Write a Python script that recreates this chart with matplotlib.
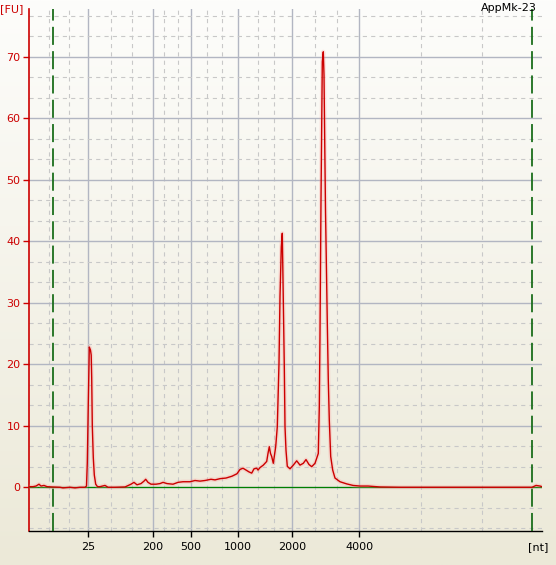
import numpy as np
import matplotlib
matplotlib.use("Agg")
import matplotlib.pyplot as plt

plt.rcParams["lines.scale_dashes"] = False
plt.rcParams["font.family"] = "DejaVu Sans"

# Electropherogram trace: migration time [s] vs fluorescence [FU]
time_s = [19.0, 19.4, 19.7, 20.0, 20.2, 20.5, 20.8, 21.3, 22.1, 22.4, 23.1, 23.6, 24.1, 24.6,
          24.75, 24.83, 24.93, 25.03, 25.15, 25.22, 25.27, 25.33, 25.43, 25.53, 25.67, 25.85,
          26.1, 26.6, 26.9, 27.6, 28.6, 29.2, 29.5, 29.8, 30.2, 30.5, 30.67, 30.9, 31.2, 31.7,
          32.1, 32.4, 32.8, 33.4, 33.9, 34.4, 35.1, 35.6, 36.1, 36.6, 37.2, 37.6, 38.1, 38.7,
          39.3, 39.8, 40.1, 40.4, 40.7, 41.0, 41.27, 41.5, 41.77, 41.9, 42.1, 42.43, 42.77,
          42.9, 43.03, 43.15, 43.27, 43.43, 43.67, 43.83, 44.0, 44.1, 44.23, 44.33, 44.43,
          44.53, 44.6, 44.7, 44.83, 45.1, 45.43, 45.77, 46.1, 46.43, 46.7, 47.0, 47.27, 47.6,
          47.93, 48.03, 48.1, 48.2, 48.33, 48.43, 48.5, 48.58, 48.65, 48.72, 48.83, 48.93,
          49.03, 49.17, 49.37, 49.6, 50.1, 50.77, 51.4, 52.1, 52.9, 54.1, 56.1, 61.1, 66.1,
          69.3, 69.7, 70.1, 70.3]
fu = [0.1, 0.1, 0.2, 0.5, 0.2, 0.3, 0.1, 0.05, 0.0, -0.1, 0.0, -0.1, 0.0, 0.0,
      0.2, 4.0, 13.7, 22.8, 22.3, 21.5, 17.8, 10.0, 4.8, 2.0, 0.5, 0.1,
      0.1, 0.3, 0.0, 0.0, 0.05, 0.5, 0.8, 0.4, 0.6, 1.0, 1.3, 0.8, 0.5, 0.5,
      0.6, 0.8, 0.6, 0.5, 0.8, 0.9, 0.9, 1.1, 1.0, 1.1, 1.3, 1.2, 1.4, 1.5,
      1.8, 2.2, 2.9, 3.1, 2.8, 2.5, 2.3, 3.0, 3.1, 2.8, 3.2, 3.6, 4.2,
      5.5, 6.6, 5.5, 5.0, 3.9, 6.6, 9.85, 20.2, 31.0, 39.1, 41.3, 30.4,
      19.6, 9.85, 6.0, 3.4, 3.0, 3.6, 4.3, 3.6, 3.9, 4.5, 3.7, 3.35, 3.9,
      5.5, 13.1, 25.0, 46.7, 69.2, 70.8, 67.0, 55.0, 45.0, 38.0, 26.7, 17.4,
      10.9, 5.0, 2.8, 1.5, 0.9, 0.55, 0.3, 0.2, 0.2, 0.05, 0.0, 0.0, 0.0,
      0.0, 0.3, 0.2, 0.1]

# ladder sizes shown on the x axis and their migration times
ladder_nt = ["25", "200", "500", "1000", "2000", "4000"]
ladder_time = [24.93, 31.37, 35.17, 39.93, 45.33, 52.03]
minor_time = [21.03, 23.03, 27.17, 29.27, 32.53, 33.87, 36.77, 38.33, 41.93, 43.53,
              47.6, 49.77, 58.17, 64.27]
marker_time = [21.43, 69.33]   # lower / upper markers
sample_name = "AppMk-23"

fig = plt.figure(figsize=(5.56, 5.65), dpi=100)

# background gradient
bg = fig.add_axes([0, 0, 1, 1], zorder=-10)
top = np.array([253, 253, 251]) / 255.0
bot = np.array([236, 233, 216]) / 255.0
g = np.linspace(0, 1, 256)[:, None]
grad = top[None, None, :] * (1 - g[:, :, None]) + bot[None, None, :] * g[:, :, None]
bg.imshow(np.repeat(grad, 2, axis=1), aspect="auto", extent=[0, 1, 0, 1])
bg.axis("off")

ax = fig.add_axes([0.05216, 0.06071, 0.92266, 0.92336])
ax.patch.set_alpha(0)
ax.set_xlim(19.0, 70.3)
ax.set_ylim(-7.06, 77.76)

# grid
for t in ladder_time:
    ax.axvline(t, color="#b2b6c2", lw=1.0, zorder=1)
for t in minor_time:
    ax.axvline(t, color="#c8c8c8", lw=0.8, ls=(0, (3, 3)), zorder=1)
for v in range(0, 80, 10):
    ax.axhline(v, color="#b2b6c2", lw=1.0, zorder=1)
for k in range(-2, 24):
    if k % 3 != 0:
        ax.axhline(k * 10 / 3, color="#c8c8c8", lw=0.8, ls=(0, (3, 3)), zorder=1)

ax.axhline(0, color="#008000", lw=0.9, zorder=3)
for t in marker_time:
    ax.axvline(t, color="#1b6e1b", lw=1.3, ls=(0, (13, 4.5)), zorder=4)

# trace with soft glow
ax.plot(time_s, fu, color="#ff9090", lw=3.0, alpha=0.25, zorder=5, solid_joinstyle="round")
ax.plot(time_s, fu, color="#cc0000", lw=1.0, zorder=6)

ax.spines["top"].set_visible(False)
ax.spines["right"].set_visible(False)
ax.spines["left"].set_color("#cc0000")
ax.spines["left"].set_linewidth(1.2)
ax.spines["bottom"].set_color("black")
ax.spines["bottom"].set_linewidth(1.0)

ax.set_yticks(range(0, 80, 10))
ax.tick_params(axis="y", colors="#cc0000", labelcolor="#cc0000", labelsize=8, length=4, width=1, pad=2)
ax.set_xticks(ladder_time)
ax.set_xticklabels(ladder_nt)
ax.tick_params(axis="x", colors="black", labelsize=8, length=4, width=1, pad=4)

fig.text(0.0, 0.984, "[FU]", color="#cc0000", fontsize=8, ha="left", va="center")
fig.text(0.966, 0.986, sample_name, color="black", fontsize=8, ha="right", va="center")
fig.text(0.987, 0.032, "[nt]", color="black", fontsize=8, ha="right", va="center")

fig.savefig("out.png", dpi=100)
